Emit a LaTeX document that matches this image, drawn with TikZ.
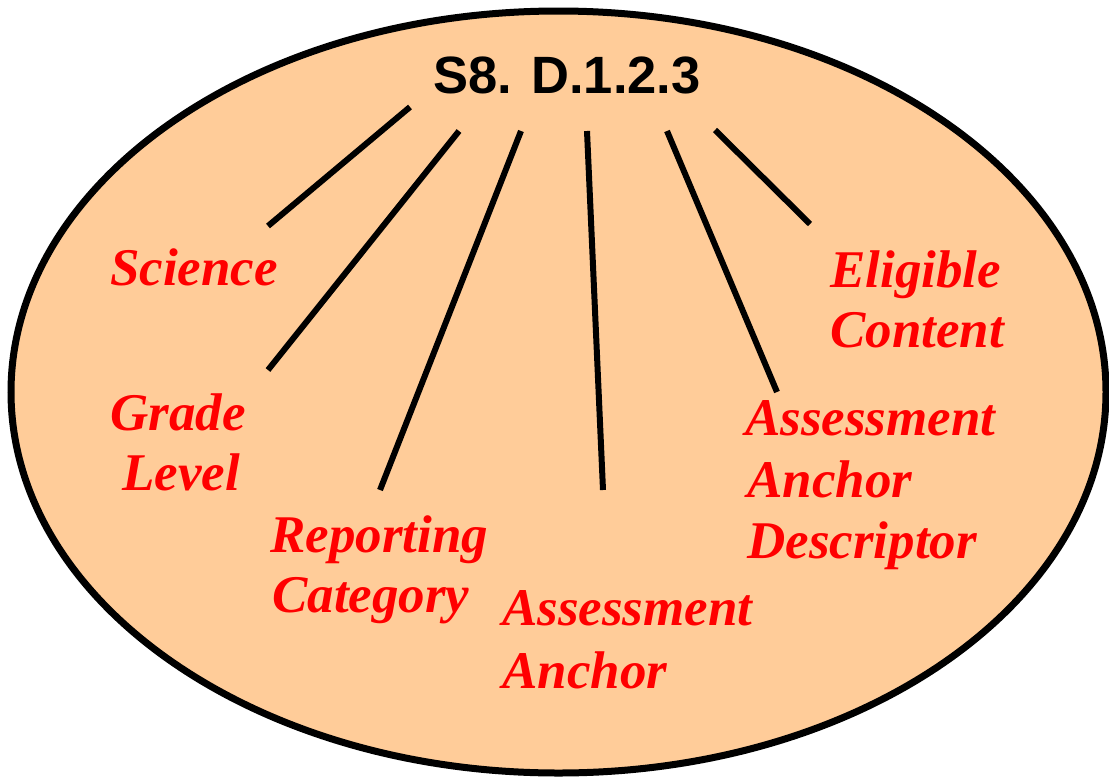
\documentclass[tikz,border=0pt]{standalone}
\usepackage{fontspec}
\usetikzlibrary{shapes.geometric}
\setmainfont{Liberation Serif}
\newfontfamily\titlefont{Liberation Sans}
\definecolor{peach}{HTML}{FFCC99}
\definecolor{labelred}{HTML}{FF0000}
\begin{document}
\begin{tikzpicture}[x=1pt,y=-1pt,
  lbl/.style={inner sep=0pt, text=labelred, font=\fontsize{53}{60}\selectfont\bfseries\itshape},
  conn/.style={line width=6pt, black},
]
\useasboundingbox (0,0) rectangle (1109,780);
\node[draw=black, line width=7pt, fill=peach, ellipse, minimum width=1095pt, minimum height=762pt, inner sep=0pt] (oval) at (558.5,392) {};
\node[inner sep=0pt, anchor=base west, font=\titlefont\fontsize{52.5}{60}\selectfont\bfseries] (code) at (433,93) {S8. D.1.2.3};

% labels
\node[lbl, anchor=base west] (sci) at (110,285) {Science};
\node[lbl, anchor=base] (grade) at (178,430) {Grade};
\node[lbl, anchor=base] (level) at (181,490) {Level};
\node[lbl, anchor=base west] (rep) at (270,552) {Reporting};
\node[lbl, anchor=base west] (cat) at (272,612) {Category};
\node[lbl, anchor=base west] (aa1) at (502,625) {Assessment};
\node[lbl, anchor=base west] (aa2) at (502,688) {Anchor};
\node[lbl, anchor=base west] (aad1) at (745,435) {Assessment};
\node[lbl, anchor=base west] (aad2) at (747,497) {Anchor};
\node[lbl, anchor=base west] (aad3) at (747,558) {Descriptor};
\node[lbl, anchor=base west] (elig) at (830,287) {Eligible};
\node[lbl, anchor=base west] (cont) at (830,347) {Content};

% connector ends
\coordinate (s1) at (410,107); \coordinate (e1) at (268,226);
\coordinate (s2) at (459,131); \coordinate (e2) at (268,370);
\coordinate (s3) at (521,131); \coordinate (e3) at (380,490);
\coordinate (s4) at (587,131); \coordinate (e4) at (603,490);
\coordinate (s5) at (667,131); \coordinate (e5) at (777,392);
\coordinate (s6) at (715,130); \coordinate (e6) at (810,224);
\draw[conn] (s1) -- (e1);
\draw[conn] (s2) -- (e2);
\draw[conn] (s3) -- (e3);
\draw[conn] (s4) -- (e4);
\draw[conn] (s5) -- (e5);
\draw[conn] (s6) -- (e6);
\end{tikzpicture}
\end{document}
